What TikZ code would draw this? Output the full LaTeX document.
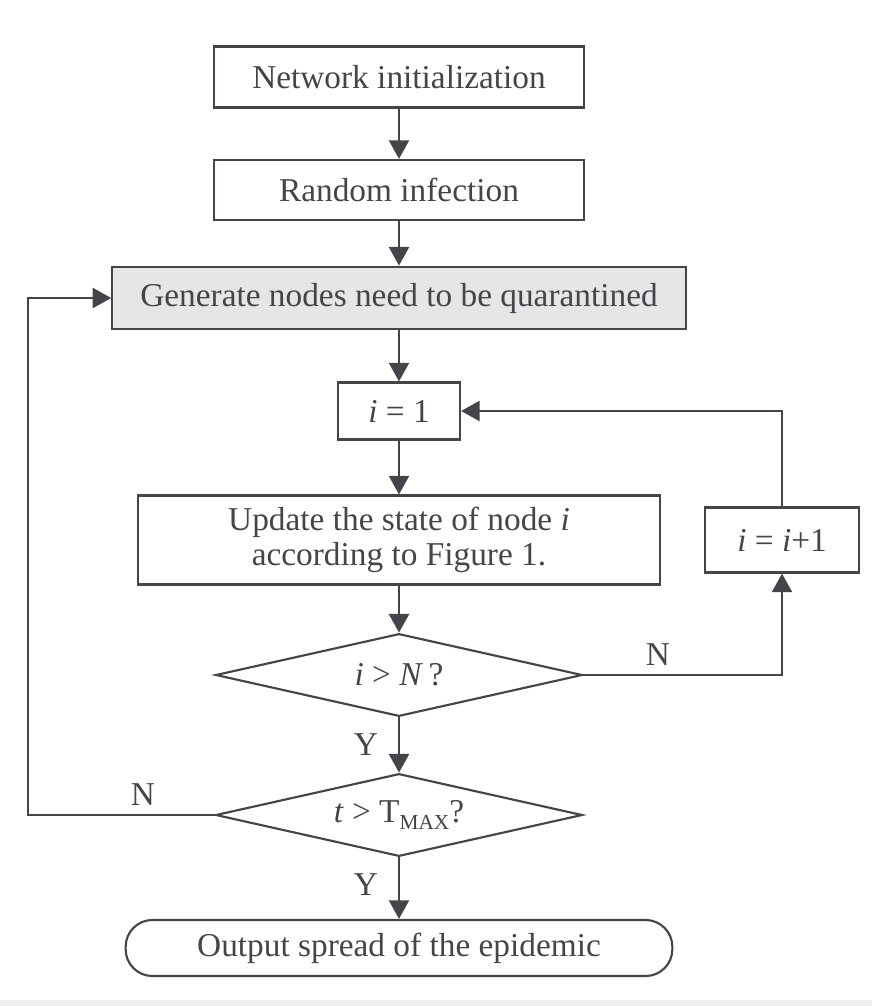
\documentclass[tikz,border=0pt]{standalone}
\usepackage{fontspec}
\setmainfont{Liberation Serif}
\usetikzlibrary{arrows.meta,shapes.geometric}
\definecolor{ink}{RGB}{68,68,74}
\definecolor{shade}{RGB}{230,230,230}
\begin{document}
\begin{tikzpicture}[x=0.75pt, y=-0.75pt, >={Triangle[length=14pt,width=15pt]},
  font=\fontsize{25}{26.5}\selectfont,
  box/.style={draw=ink, line width=1.6pt, text=ink, inner sep=0pt, align=center},
  decide/.style={box, diamond, aspect=4.4, minimum width=275pt, minimum height=62pt},
  term/.style={box, rounded corners=20pt, minimum width=410pt, minimum height=42pt},
  lab/.style={text=ink},
  arr/.style={->, draw=ink, line width=1.9pt}]
\useasboundingbox (0,0) rectangle (872,1006);
\fill[black!6] (0,1000) rectangle (872,1006);
% process boxes
\node[box, minimum width=277.5pt, minimum height=45.75pt] (init) at (399,77) {Network initialization};
\node[box, minimum width=277.5pt, minimum height=45pt] (infect) at (399,190) {Random infection};
\node[box, fill=shade, minimum width=430pt, minimum height=47pt] (quar) at (399,298) {Generate nodes need to be quarantined};
\node[box, minimum width=91.5pt, minimum height=42.75pt] (start) at (399,411) {\textit{i} = 1};
\node[box, minimum width=391.5pt, minimum height=66.75pt] (update) at (399,540) {Update the state of node \textit{i}\\according to Figure 1.};
\node[box, minimum width=115pt, minimum height=48.75pt] (next) at (782,540) {\textit{i} = \textit{i}+1};
\node[decide] (lastnode) at (399,675) {\textit{i} > \textit{N}\,?};
\node[decide] (lasttime) at (399,815) {\textit{t} > T\raisebox{-0.4ex}{\fontsize{16}{16}\selectfont MAX}?};
\node[term] (out) at (399,948) {Output spread of the epidemic};
\coordinate (back) at (28,815);
% connectors
\draw[arr] (init) -- (infect);
\draw[arr] (infect) -- (quar);
\draw[arr] (quar) -- (start);
\draw[arr] (start) -- (update);
\draw[arr] (update) -- (lastnode);
\draw[arr] (lastnode) -- (lasttime);
\draw[arr] (lasttime) -- (out);
\draw[arr] (lastnode.east) -| (next.south);
\draw[arr] (next.north) |- (start.east);
\draw[arr] (lasttime.west) -- (back) |- (quar.west);
% branch labels
\node[lab] (ya) at (366,745) {Y};
\node[lab] (yb) at (366,885) {Y};
\node[lab] (na) at (658,655) {N};
\node[lab] (nb) at (143,795) {N};
\end{tikzpicture}
\end{document}
